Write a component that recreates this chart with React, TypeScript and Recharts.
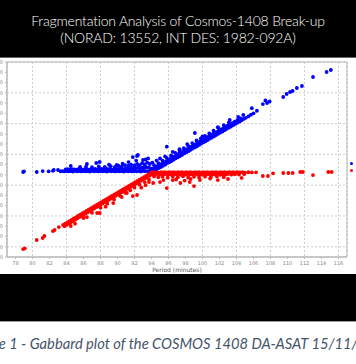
import { ScatterChart, Scatter, XAxis, YAxis, CartesianGrid, ReferenceArea } from "recharts";

// Gabbard plot of the Cosmos-1408 debris cloud: period (min) vs altitude (km)
const xTicks = [78, 80, 82, 84, 86, 88, 90, 92, 94, 96, 98, 100, 102, 104, 106, 108, 110, 112, 114, 116];
const yTicks = [-1200, -1000, -800, -600, -400, -200, 0, 200, 400, 600, 800, 1000, 1200, 1400, 1600, 1800, 2000, 2200, 2400, 2600];

// apogee (blue)
const apogeeSparse = [
    [78.9, 456], [79.0, 470], [80.5, 456], [81.2, 475], [81.9, 470], [82.4, 480], [82.5, 495], [83.0, 495], [83.3, 470]
];
const apogeeFlat = [
    [83.5, 474], [83.75, 468], [84.0, 476], [84.25, 470], [84.5, 472], [84.75, 466], [85.0, 478], [85.25, 470], [85.5, 474],
    [85.75, 468], [86.0, 476], [86.25, 470], [86.5, 472], [86.75, 466], [87.0, 478], [87.25, 470], [87.5, 474], [87.75, 468],
    [88.0, 476], [88.25, 470], [88.5, 472], [88.75, 466], [89.0, 478], [89.25, 470], [89.5, 474], [89.75, 468], [90.0, 476],
    [90.25, 470], [90.5, 472], [90.75, 466], [91.0, 478], [91.25, 470], [91.5, 474], [91.75, 468], [92.0, 476], [92.25, 470],
    [92.5, 472], [92.75, 466], [93.0, 478], [93.25, 470], [93.5, 474], [93.75, 468], [94.0, 470],
    [83.9, 506], [84.15, 512], [84.4, 502], [84.65, 514], [84.9, 508], [85.15, 500], [85.4, 510], [85.65, 516], [85.9, 504],
    [86.15, 510], [86.4, 514], [86.65, 502], [86.9, 512], [87.15, 508], [87.4, 518], [87.65, 504], [87.9, 512], [88.15, 516],
    [88.4, 506], [88.65, 520], [88.9, 510], [89.15, 514], [89.4, 504], [89.65, 518], [89.9, 512], [90.15, 516], [90.4, 524],
    [90.65, 508], [90.9, 520], [91.15, 528], [91.4, 514], [91.65, 534], [91.9, 522], [92.15, 530], [92.4, 540], [92.65, 524],
    [92.9, 544], [93.15, 534], [93.4, 550], [93.65, 542], [93.9, 526],
    [85.6, 555], [86.3, 560], [87.0, 550], [87.8, 565], [88.5, 558], [89.2, 570], [89.7, 555], [90.1, 580], [90.5, 565],
    [90.9, 590], [91.3, 578], [91.6, 600], [92.0, 585], [92.3, 612], [92.6, 592], [92.9, 628], [93.2, 605], [93.5, 640],
    [93.8, 612]
];
const apogeeHigh = [
    [84.5, 573], [86.4, 612], [87.5, 632], [87.9, 651], [89.0, 600], [89.9, 593], [90.6, 620], [91.3, 650], [91.8, 748],
    [92.2, 680], [92.3, 768], [92.4, 790], [93.0, 690], [93.3, 700], [93.6, 720], [94.1, 640], [94.6, 680], [95.0, 720],
    [95.6, 760], [95.8, 949], [96.5, 850], [97.3, 900], [98.2, 1000], [99.1, 1216], [100.0, 1150], [101.8, 1330],
    [103.2, 1470], [104.2, 1528], [104.8, 1567], [105.8, 1700]
];
const apogeeRising = [
    [94.1, 460], [94.35, 482], [94.6, 506], [94.85, 532], [95.1, 554], [95.35, 576], [95.6, 600], [95.85, 628], [96.1, 648],
    [96.35, 670], [96.6, 696], [96.85, 722], [97.1, 744], [97.35, 766], [97.6, 792], [97.85, 818], [98.1, 840], [98.35, 862],
    [98.6, 888], [98.85, 914], [99.1, 936], [99.35, 958], [99.6, 984], [99.85, 1010], [100.1, 1032], [100.35, 1054],
    [100.6, 1080], [100.85, 1106], [101.1, 1128], [101.35, 1150], [101.6, 1176], [101.85, 1202], [102.1, 1224],
    [102.35, 1246], [102.6, 1272], [102.85, 1298], [103.1, 1320], [103.35, 1342], [103.6, 1368], [103.85, 1394],
    [104.1, 1416], [104.35, 1438], [104.6, 1464], [104.85, 1490], [105.1, 1512], [105.4, 1540], [105.7, 1572],
    [106.0, 1600], [106.4, 1650],
    [94.2, 520], [94.45, 542], [94.7, 570], [94.95, 590], [95.2, 616], [95.45, 638], [95.7, 664], [95.95, 686], [96.2, 712],
    [96.45, 734], [96.7, 760], [96.95, 782], [97.2, 808], [97.45, 830], [97.7, 856], [97.95, 878], [98.2, 904], [98.45, 926],
    [98.7, 952], [98.95, 974], [99.2, 1000], [99.45, 1022], [99.7, 1048], [99.95, 1070], [100.2, 1096], [100.45, 1118],
    [100.7, 1144], [100.95, 1166], [101.2, 1192], [101.45, 1214], [101.7, 1240], [101.95, 1262], [102.2, 1288],
    [102.45, 1310], [102.7, 1336], [102.95, 1358], [103.2, 1384], [103.5, 1410], [103.8, 1440], [104.1, 1466],
    [104.5, 1500],
    [94.3, 590], [94.8, 630], [95.3, 680], [95.8, 730], [96.3, 780], [96.8, 830], [97.3, 870], [97.8, 920], [98.3, 970],
    [98.8, 1020], [99.3, 1070], [99.8, 1110], [100.3, 1160], [100.8, 1210], [101.3, 1260], [101.9, 1310], [102.5, 1370],
    [103.1, 1420]
];
const apogeeTail = [
    [107.1, 1781], [107.4, 1850], [107.6, 1801], [107.9, 1830], [109.5, 1918], [109.9, 1976], [110.3, 2015], [110.6, 2035],
    [111.1, 2093], [111.7, 2132], [113.0, 2308], [114.6, 2405], [115.1, 2444]
];

// perigee (red)
const perigeeSparse = [
    [78.9, -1045], [79.1, -1030], [80.5, -869], [81.2, -830], [81.4, -791], [82.4, -694], [82.6, -674], [83.1, -616], [84.5, -596]
];
const perigeeFalling = [
    [83.6, -573], [83.85, -548], [84.1, -524], [84.35, -499], [84.6, -475], [84.85, -450], [85.1, -426], [85.35, -401],
    [85.6, -377], [85.85, -352], [86.1, -328], [86.35, -304], [86.6, -279], [86.85, -255], [87.1, -230], [87.35, -206],
    [87.6, -181], [87.85, -157], [88.1, -132], [88.35, -108], [88.6, -83], [88.85, -59], [89.1, -34], [89.35, -10],
    [89.6, 15], [89.85, 39], [90.1, 64], [90.35, 88], [90.6, 113], [90.85, 137], [91.1, 162], [91.35, 186], [91.6, 211],
    [91.85, 235], [92.1, 260], [92.35, 284], [92.6, 309], [92.85, 333], [93.1, 358], [93.35, 382], [93.6, 407],
    [93.85, 431], [94.05, 451],
    [83.75, -600], [84.0, -575], [84.25, -550], [84.5, -525], [84.75, -500], [85.0, -476], [85.25, -452], [85.5, -426],
    [85.75, -402], [86.0, -378], [86.25, -354], [86.5, -328], [86.75, -305], [87.0, -280], [87.25, -256], [87.5, -230],
    [87.75, -206], [88.0, -182], [88.25, -158], [88.5, -132], [88.75, -108], [89.0, -84], [89.25, -60], [89.5, -34],
    [89.75, -10], [90.0, 14], [90.25, 38], [90.5, 64], [90.75, 88], [91.0, 112], [91.25, 136], [91.5, 162], [91.75, 186],
    [92.0, 210], [92.25, 234], [92.5, 260], [92.75, 284], [93.0, 308], [93.25, 332], [93.5, 358], [93.75, 382], [94.0, 406],
    [85.0, -550], [86.0, -440], [87.0, -340], [88.0, -240], [88.8, -160], [89.6, -80], [90.3, -10], [90.9, 50], [91.5, 100],
    [92.0, 150], [92.6, 210], [93.2, 260], [93.7, 310]
];
const perigeeLow = [
    [86.4, -421], [87.6, -343], [87.9, -343], [88.6, -220], [89.5, -150], [90.5, -31], [91.1, 47], [91.8, -12], [92.3, 8],
    [92.8, 150], [93.3, 200], [93.7, 260], [94.2, 242], [95.0, 261], [95.4, 300], [95.8, 144], [96.5, 300], [96.9, 310],
    [97.4, 242], [97.9, 290], [98.5, 261], [98.6, 320], [99.0, 183], [99.7, 300], [100.9, 330], [101.8, 300], [103.0, 320],
    [104.6, 340]
];
const perigeeFlat = [
    [94.1, 452], [94.35, 448], [94.6, 454], [94.85, 446], [95.1, 452], [95.35, 448], [95.6, 454], [95.85, 446], [96.1, 452],
    [96.35, 448], [96.6, 454], [96.85, 446], [97.1, 452], [97.35, 448], [97.6, 454], [97.85, 446], [98.1, 452], [98.35, 448],
    [98.6, 454], [98.85, 446], [99.1, 452], [99.35, 448], [99.6, 454], [99.85, 446], [100.1, 452], [100.35, 448],
    [100.6, 454], [100.85, 446], [101.1, 452], [101.35, 448], [101.6, 454], [101.85, 446], [102.1, 452], [102.35, 448],
    [102.6, 454], [102.85, 446], [103.1, 452], [103.35, 448], [103.6, 454], [103.85, 446], [104.1, 452], [104.4, 448],
    [104.7, 454], [105.0, 446], [105.4, 452], [105.8, 448], [106.3, 450],
    [94.2, 414], [94.45, 406], [94.7, 418], [94.95, 404], [95.2, 412], [95.45, 406], [95.7, 418], [95.95, 404], [96.2, 412],
    [96.45, 402], [96.7, 414], [96.95, 408], [97.2, 418], [97.45, 402], [97.7, 412], [97.95, 406], [98.2, 416], [98.45, 402],
    [98.7, 412], [98.95, 408], [99.2, 418], [99.45, 404], [99.7, 412], [99.95, 402], [100.2, 414], [100.45, 408],
    [100.7, 416], [100.95, 404], [101.2, 412], [101.5, 406], [101.8, 416], [102.1, 402], [102.4, 412], [102.7, 408],
    [103.0, 416], [103.4, 404], [103.8, 412], [104.3, 408], [104.9, 414],
    [94.3, 370], [94.8, 352], [95.3, 365], [95.9, 345], [96.5, 368], [97.1, 355], [97.7, 372], [98.3, 348], [99.0, 362],
    [99.6, 350], [100.3, 366], [101.0, 358], [101.7, 370], [102.5, 355]
];
const perigeeTail = [
    [107.1, 378], [107.7, 378], [108.3, 430], [109.5, 437], [110.1, 437], [110.6, 437], [111.5, 456], [111.8, 456],
    [113.0, 397], [114.8, 456], [115.2, 456]
];

const toPoints = (...sets: number[][][]) => sets.flat().map(([period, alt]) => ({ period, alt }));

const apogee = toPoints(apogeeSparse, apogeeFlat, apogeeHigh, apogeeRising, apogeeTail);
const perigee = toPoints(perigeeSparse, perigeeFalling, perigeeLow, perigeeFlat, perigeeTail);

const dot = (color: string) => (props: any) => <circle cx={props.cx} cy={props.cy} r={1.9} fill={color} />;

const axisTitle = (props: any) => {
    const { viewBox } = props;
    return (
        <text x={viewBox.x + viewBox.width / 2} y={viewBox.y + viewBox.height - 2} textAnchor="middle"
            fontSize={6} fill="#555" fontFamily="DejaVu Sans">
            Period (minutes)
        </text>
    );
};

const App = () => {
    return (
        <div style={{ position: "absolute", left: 0, top: 0, width: 356, height: 364, overflow: "hidden", background: "#fff" }}>
            <div style={{
                position: "absolute", left: 0, top: 0, width: 356, height: 58, background: "#000",
                borderBottom: "1px solid #666", color: "#fff", fontFamily: "Lato", fontWeight: 300, fontSize: 14,
                lineHeight: "17px", textAlign: "center", paddingTop: 12, boxSizing: "border-box", letterSpacing: -0.2
            }}>
                <div>Fragmentation Analysis of Cosmos-1408 Break-up</div>
                <div>(NORAD: 13552, INT DES: 1982-092A)</div>
            </div>

            <div style={{ position: "absolute", left: 0, top: 59 }}>
                <ScatterChart width={356} height={215} margin={{ top: 3, right: 9, bottom: 0, left: 0 }}>
                    <CartesianGrid stroke="#cfcfcf" strokeDasharray="2 2" />
                    <XAxis
                        type="number" dataKey="period" domain={[77, 117]} ticks={xTicks} allowDataOverflow
                        height={17} tickSize={2} stroke="#bbb"
                        tick={{ fontSize: 5, fill: "#888", fontFamily: "DejaVu Sans" }}
                        label={axisTitle}
                    />
                    <YAxis
                        type="number" dataKey="alt" domain={[-1200, 2600]} ticks={yTicks} allowDataOverflow
                        width={7} tickSize={2} stroke="#bbb"
                        tick={{ fontSize: 5, fill: "#888", fontFamily: "DejaVu Sans" }}
                    />
                    <ReferenceArea x1={77} x2={117} y1={-1200} y2={2600} fill="none" stroke="#b5b5b5" />
                    <Scatter name="Apogee" data={apogee} fill="#0000ff" shape={dot("#0000ff")} isAnimationActive={false} />
                    <Scatter name="Perigee" data={perigee} fill="#ff0000" shape={dot("#ff0000")} isAnimationActive={false} />
                </ScatterChart>
            </div>

            <div style={{ position: "absolute", left: 350, top: 160, fontFamily: "DejaVu Sans", fontSize: 5, lineHeight: "7px", whiteSpace: "nowrap" }}>
                <div><span style={{ display: "inline-block", width: 3, height: 3, borderRadius: 2, background: "#0000ff", marginRight: 6 }} />Apogee</div>
                <div><span style={{ display: "inline-block", width: 3, height: 3, borderRadius: 2, background: "#ff0000", marginRight: 6 }} />Perigee</div>
            </div>

            <div style={{ position: "absolute", left: 0, top: 274, width: 356, height: 47, background: "#000", borderBottom: "1px solid #999" }} />

            <div style={{
                position: "absolute", left: -32, top: 334, whiteSpace: "nowrap", fontFamily: "Lato",
                fontStyle: "italic", fontSize: 14.7, color: "#44546a"
            }}>
                Figure 1 - Gabbard plot of the COSMOS 1408 DA-ASAT 15/11/2021
            </div>
        </div>
    );
};

export default App;
